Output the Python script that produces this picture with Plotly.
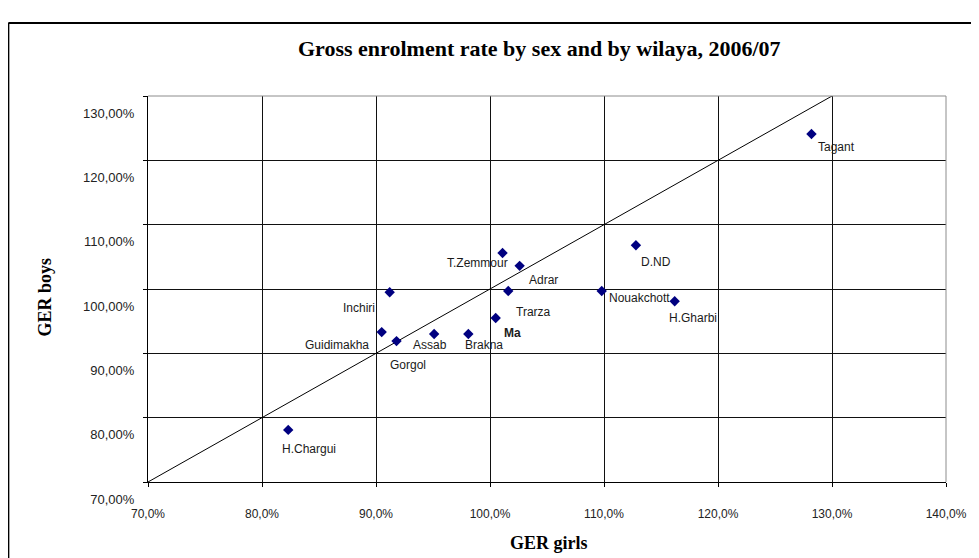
import plotly.graph_objects as go

# ---- data ----
wilayas = ["Tagant", "D.ND", "Nouakchott", "H.Gharbi", "Adrar", "Trarza", "Ma",
           "T.Zemmour", "Inchiri", "Guidimakha", "Gorgol", "Assab", "Brakna", "H.Chargui"]
ger_girls = [128.2, 112.8, 109.8, 116.2, 102.6, 101.6, 100.5,
             101.1, 91.2, 90.5, 91.8, 95.1, 98.1, 82.3]
ger_boys = [124.1, 106.8, 99.7, 98.1, 103.6, 99.7, 95.5,
            105.6, 99.5, 93.3, 91.9, 93.0, 93.0, 78.1]

x_ticks = [70, 80, 90, 100, 110, 120, 130, 140]
x_tick_labels = ["70,0%", "80,0%", "90,0%", "100,0%", "110,0%", "120,0%", "130,0%", "140,0%"]
y_ticks = [70, 80, 90, 100, 110, 120, 130]
y_tick_labels = ["70,00%", "80,00%", "90,00%", "100,00%", "110,00%", "120,00%", "130,00%"]
parity = [70, 130]

# ---- label styling (anchor, x shift px, y shift px, bold) ----
label_style = {
    "Tagant": ("left", 5, -13, False),
    "D.ND": ("left", 3, -17, False),
    "Nouakchott": ("left", 5, -7, False),
    "H.Gharbi": ("left", -8, -17, False),
    "Adrar": ("left", 7, -14, False),
    "Trarza": ("left", 6, -21, False),
    "Ma": ("left", 6, -15, True),
    "T.Zemmour": ("right", 7, -10, False),
    "Inchiri": ("right", -13, -16, False),
    "Guidimakha": ("right", -11, -13, False),
    "Gorgol": ("left", -9, -24, False),
    "Assab": ("left", -23, -11, False),
    "Brakna": ("left", -5, -11, False),
    "H.Chargui": ("left", -8, -19, False),
}

SANS = "Liberation Sans, Arial, sans-serif"
SERIF = "Liberation Serif, Times New Roman, serif"

fig = go.Figure()
fig.add_trace(go.Scatter(x=parity, y=parity, mode="lines",
                         line=dict(color="black", width=1), hoverinfo="skip",
                         showlegend=False))
fig.add_trace(go.Scatter(x=ger_girls, y=ger_boys, mode="markers",
                         marker=dict(symbol="diamond", size=8, color="#000080"),
                         text=wilayas, showlegend=False))

annotations = []
for name, gx, by in zip(wilayas, ger_girls, ger_boys):
    anchor, xs, ys, bold = label_style[name]
    annotations.append(dict(
        x=gx, y=by, xref="x", yref="y", text=f"<b>{name}</b>" if bold else name,
        showarrow=False, xanchor=anchor, yanchor="middle", xshift=xs, yshift=ys,
        font=dict(family=SANS, size=12, color="#1a1a1a")))

annotations.append(dict(text="<b>Gross enrolment rate by sex and by wilaya, 2006/07</b>",
                        xref="paper", yref="paper", x=0.49, y=1.124, xanchor="center",
                        yanchor="middle", showarrow=False,
                        font=dict(family=SERIF, size=22, color="black")))
annotations.append(dict(text="<b>GER girls</b>", xref="paper", yref="paper",
                        x=0.503, y=-0.158, xanchor="center", yanchor="middle",
                        showarrow=False, font=dict(family=SERIF, size=18, color="black")))
annotations.append(dict(text="<b>GER boys</b>", xref="paper", yref="paper",
                        x=-0.129, y=0.478, xanchor="center", yanchor="middle",
                        textangle=-90, showarrow=False,
                        font=dict(family=SERIF, size=18, color="black")))

shapes = [
    # outer frame (left and top edges visible)
    dict(type="line", xref="paper", yref="paper", x0=-0.175, x1=1.2, y0=1.189, y1=1.189,
         line=dict(color="black", width=2)),
    dict(type="line", xref="paper", yref="paper", x0=-0.175, x1=-0.175, y0=1.189, y1=-0.4,
         line=dict(color="black", width=2)),
    # grey top and right plot edges
    dict(type="line", xref="paper", yref="paper", x0=0, x1=1, y0=1, y1=1,
         line=dict(color="#8c8c8c", width=1), layer="above"),
    dict(type="line", xref="paper", yref="paper", x0=1, x1=1, y0=0, y1=1,
         line=dict(color="#8c8c8c", width=1), layer="above"),
]

# page body has an 8px margin, so the figure is 8px smaller than the window
fig.update_layout(
    width=971, height=550, autosize=False,
    margin=dict(l=140, r=31, t=88, b=76),
    paper_bgcolor="white", plot_bgcolor="white",
    annotations=annotations, shapes=shapes,
    xaxis=dict(range=[70, 140], tickvals=x_ticks, ticktext=x_tick_labels,
               showgrid=True, gridcolor="#111111", gridwidth=1, zeroline=False,
               showline=True, linecolor="black", linewidth=1,
               ticks="outside", ticklen=4, tickcolor="black",
               ticklabelstandoff=17,
               tickfont=dict(family=SANS, size=12, color="#222222")),
    yaxis=dict(range=[70, 130], tickvals=y_ticks, ticktext=y_tick_labels,
               showgrid=True, gridcolor="#111111", gridwidth=1, zeroline=False,
               showline=True, linecolor="black", linewidth=1,
               ticks="outside", ticklen=4, tickcolor="black",
               ticklabelstandoff=6, ticklabelshift=17,
               tickfont=dict(family=SANS, size=13, color="#222222")),
)

fig.write_html("out.html")
